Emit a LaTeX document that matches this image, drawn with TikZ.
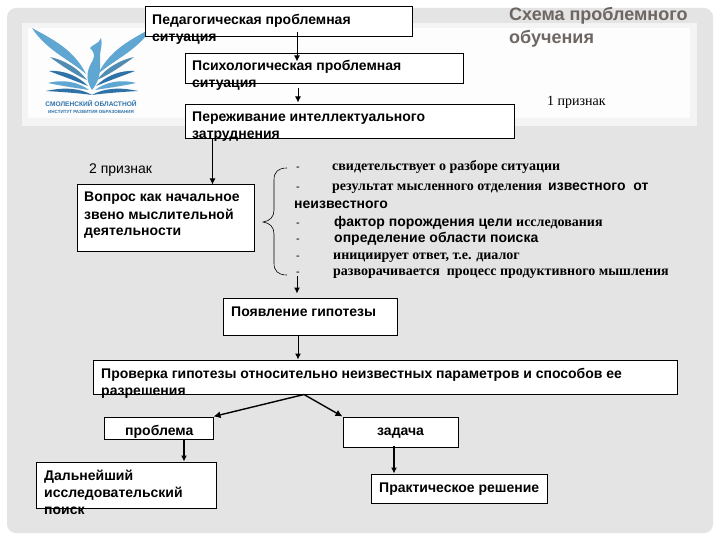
\documentclass[tikz,border=0pt]{standalone}
\usepackage{fontspec}
\setmainfont{Liberation Sans}
\newfontfamily\serifface{Liberation Serif}
\definecolor{slidegray}{HTML}{E4E4E4}
\definecolor{panelwhite}{HTML}{FDFDFD}
\definecolor{panelrim}{HTML}{F4F4F4}
\definecolor{titlegray}{HTML}{6E6662}
\definecolor{logoblue}{HTML}{5FA6D2}
\definecolor{logodark}{HTML}{2F72A8}
\usetikzlibrary{calc, arrows.meta}
\tikzset{
  boxnode/.style={draw=black, fill=white, line width=1pt, inner sep=0pt},
  boxtext/.style={font=\fontsize{14}{17}\selectfont\bfseries, align=left, inner sep=0pt, anchor=base west},
  listsans/.style={font=\fontsize{14}{15}\selectfont\bfseries, inner sep=0pt, anchor=base west},
  listserif/.style={font=\fontsize{14}{15}\serifface\selectfont\bfseries, inner sep=0pt, anchor=base west},
  arrowline/.style={-{Latex[length=6pt,width=6pt]}, line width=1pt},
  slantline/.style={-{Latex[length=7pt,width=7pt]}, line width=1.4pt},
  heavyline/.style={-{Latex[length=6pt,width=6pt]}, line width=2pt},
}
\begin{document}
\begin{tikzpicture}[x=1pt,y=-1pt]
  \useasboundingbox (0,0) rectangle (720,540);
  \fill[white] (0,0) rectangle (720,540);
  \fill[slidegray, rounded corners=9pt] (7,8) rectangle (713,533);
  \fill[panelrim] (22,23) rectangle (697,126);
  \fill[panelwhite] (28,28) rectangle (690,118);

  % logo
  \foreach \side/\mid in {1/92, -1/92} {
    \begin{scope}[shift={(\mid,0)}, xscale=\side]
      \fill[logoblue] (-60,28) .. controls (-38,40) and (-18,50) .. (-6,74) .. controls (-22,60) and (-46,50) .. (-60,28);
      \fill[logoblue!85!black] (-42,57) .. controls (-28,60) and (-14,68) .. (-5,80) .. controls (-18,74) and (-30,66) .. (-42,57);
      \fill[logodark] (-43,71) .. controls (-28,70) and (-14,76) .. (-4,86) .. controls (-16,81) and (-30,76) .. (-43,71);
      \fill[logoblue] (-44,83) .. controls (-28,79) and (-14,82) .. (-3,90) .. controls (-16,88) and (-30,86) .. (-44,83);
      \fill[logodark] (-46,91) .. controls (-28,87) and (-12,88) .. (0,95) .. controls (-14,93) and (-30,92) .. (-46,91);
    \end{scope}
  }
  \fill[logoblue] (92,90) .. controls (84,78) and (88,68) .. (93,60) .. controls (96,54) and (92,50) .. (90,48) .. controls (93,44) and (99,44) .. (101,38) .. controls (103,44) and (100,50) .. (100,56) .. controls (100,66) and (102,78) .. (92,90);
  \node[font=\fontsize{6.6}{7}\selectfont\bfseries, text=logodark, inner sep=0pt] (logoname) at (91,104) {СМОЛЕНСКИЙ ОБЛАСТНОЙ};
  \node[font=\fontsize{4.5}{5}\selectfont\bfseries, text=logodark, inner sep=0pt] (logosub) at (91,112) {ИНСТИТУТ РАЗВИТИЯ ОБРАЗОВАНИЯ};

  % boxes
  \foreach \name/\xa/\ya/\xb/\yb in {
    ped/145/7/412/37, psych/185/54/463/84, perezh/185/105/514/139,
    vopros/77/185/254/251, poyav/223/298/397/335, prover/93/360/677/394,
    problema/104/417/213/439, zadacha/343/417/458/447,
    dalnei/36/462/216/508, prakt/371/474/547/503} {
    \node[boxnode, minimum width=\xb-\xa, minimum height=\yb-\ya] (\name) at ({(\xa+\xb)/2},{(\ya+\yb)/2}) {};
  }

  % connectors
  \draw[arrowline, shorten <=-5pt, shorten >=-8pt] ([xshift=18.5pt]ped.south) -- ([xshift=-27pt]psych.north);
  \draw[arrowline, shorten <=4pt, shorten >=2pt] ([xshift=-26pt]psych.south) -- ([xshift=-51.5pt]perezh.north);
  \draw[arrowline] ([xshift=-137pt]perezh.south) -- ([xshift=47pt]vopros.north);
  \coordinate (listend) at (297,276);
  \draw[arrowline, shorten >=4pt] (listend) -- ([xshift=-13pt]poyav.north);
  \draw[arrowline] ([xshift=-12pt]poyav.south) -- ([xshift=-87pt]prover.north);
  \draw[slantline] ([xshift=-81pt]prover.south) -- (problema.north east);
  \draw[slantline] ([xshift=-81pt]prover.south) -- (zadacha.north west);
  \draw[heavyline] ([xshift=25.5pt]problema.south) -- ([xshift=58pt]dalnei.north);
  \draw[heavyline, shorten <=-2pt] ([xshift=-6.5pt]zadacha.south) -- ([xshift=-65pt]prakt.north);

  % brace
  \draw[line width=.6pt] (287,168) .. controls (278,168) and (274,172) .. (274,180) -- (274,210) .. controls (274,217) and (270,221) .. (263,222) .. controls (270,223) and (274,227) .. (274,234) -- (274,263) .. controls (274,271) and (278,275) .. (287,275);

  % box texts
  \foreach \name/\tx/\ty/\label in {
    ped/152/42/{Педагогическая проблемная\\ситуация},
    psych/192/88/{Психологическая проблемная\\ситуация},
    perezh/192/139/{Переживание интеллектуального\\затруднения},
    vopros/84/236/{Вопрос как начальное\\звено мыслительной\\деятельности},
    poyav/231/316/{Появление гипотезы},
    prover/101/395/{Проверка гипотезы относительно неизвестных параметров и способов ее\\разрешения},
    problema/125/435/{проблема},
    zadacha/377/435/{задача},
    dalnei/44/514/{Дальнейший\\исследовательский\\поиск},
    prakt/379/492/{Практическое решение}} {
    \node[boxtext] (\name text) at (\tx,\ty) {\label};
  }

  % list
  \foreach \y/\dname in {171/d1, 191/d2, 226/d3, 243/d4, 259/d5, 275/d6} {
    \node[listsans, font=\fontsize{11}{12}\selectfont] (\dname) at (296,\y) {-};
  }
  \node[listserif] (itema) at (332,171) {свидетельствует о разборе ситуации};
  \node[listserif] (itemb) at (332,191) {результат мысленного отделения};
  \node[listsans] (itembb) at (548,191) {известного\ \ от};
  \node[listsans] (itemc) at (294,208.5) {неизвестного};
  \node[listsans] (itemd) at (334,226) {фактор порождения цели};
  \node[listserif] (itemdd) at (516,226) {исследования};
  \node[listsans] (iteme) at (334,243) {определение области поиска};
  \node[listserif] (itemf) at (333,259) {инициирует ответ, т.е. диалог};
  \node[listserif] (itemg) at (333,275) {разворачивается\ \ процесс продуктивного мышления};

  % labels
  \node[font=\fontsize{18}{23}\selectfont\bfseries, text=titlegray, align=left, inner sep=0pt, anchor=west] (heading) at (509,27) {Схема проблемного\\обучения};
  \node[font=\fontsize{14}{14}\serifface\selectfont, inner sep=0pt, anchor=west] (signone) at (547,102) {1 признак};
  \node[font=\fontsize{14}{14}\selectfont, inner sep=0pt, anchor=west] (signtwo) at (89,170) {2 признак};
\end{tikzpicture}
\end{document}
